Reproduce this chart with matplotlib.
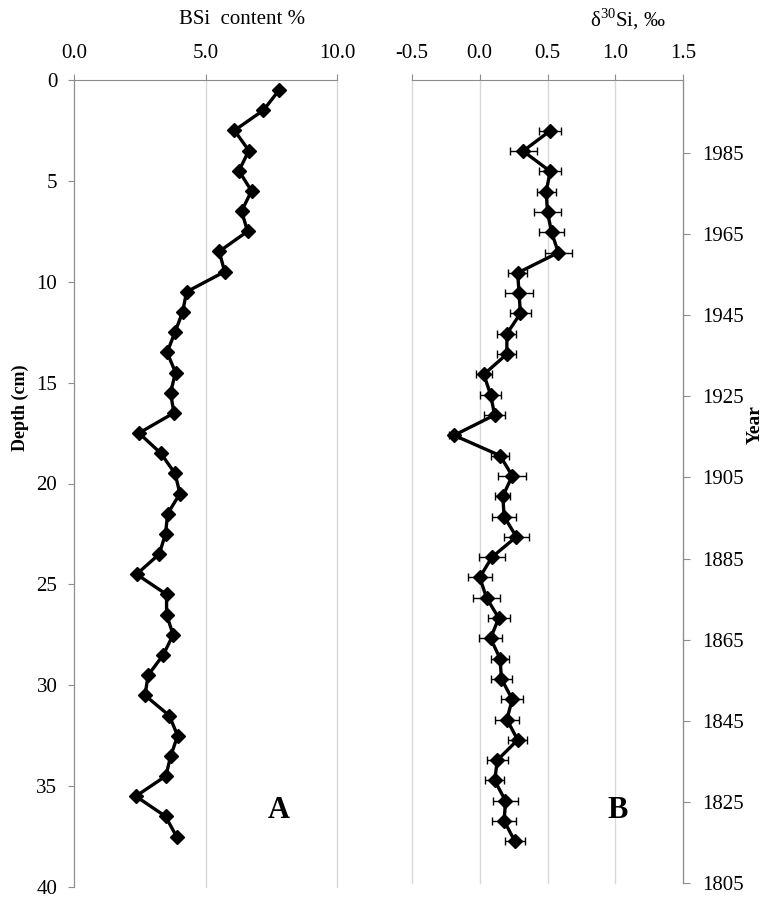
import matplotlib
matplotlib.use('Agg')
import matplotlib.pyplot as plt
import numpy as np

plt.rcParams['font.family'] = ['Liberation Serif', 'DejaVu Serif']
plt.rcParams['mathtext.fontset'] = 'custom'
plt.rcParams['mathtext.rm'] = 'Liberation Serif'

# panel A: BSi content vs depth
depth_a = [0.5, 1.5, 2.5, 3.5, 4.5, 5.5, 6.5, 7.5, 8.5, 9.5,
           10.5, 11.5, 12.5, 13.5, 14.5, 15.5, 16.5, 17.5, 18.5, 19.5,
           20.5, 21.5, 22.5, 23.5, 24.5, 25.5, 26.5, 27.5, 28.5, 29.5,
           30.5, 31.5, 32.5, 33.5, 34.5, 35.5, 36.5, 37.5]
bsi = [7.8, 7.2, 6.1, 6.65, 6.27, 6.75, 6.37, 6.6, 5.52, 5.73,
       4.28, 4.13, 3.84, 3.54, 3.86, 3.67, 3.80, 2.47, 3.30, 3.84,
       4.03, 3.56, 3.48, 3.24, 2.38, 3.52, 3.52, 3.77, 3.39, 2.82,
       2.70, 3.62, 3.94, 3.68, 3.49, 2.35, 3.48, 3.90]

# panel B: d30Si vs depth, with error
depth_b = [2.5, 3.5, 4.5, 5.5, 6.5, 7.5, 8.5, 9.5, 10.5, 11.5,
           12.5, 13.5, 14.5, 15.5, 16.5, 17.5, 18.5, 19.5, 20.5, 21.5,
           22.5, 23.5, 24.5, 25.5, 26.5, 27.5, 28.5, 29.5, 30.5, 31.5,
           32.5, 33.5, 34.5, 35.5, 36.5, 37.5]
d30si = [0.52, 0.32, 0.52, 0.49, 0.50, 0.53, 0.58, 0.28, 0.29, 0.30,
         0.20, 0.20, 0.03, 0.08, 0.11, -0.19, 0.15, 0.24, 0.17, 0.18,
         0.27, 0.09, 0.00, 0.05, 0.14, 0.08, 0.15, 0.16, 0.24, 0.20,
         0.28, 0.13, 0.11, 0.19, 0.18, 0.26]
d30si_err = [0.08, 0.10, 0.08, 0.07, 0.10, 0.09, 0.10, 0.07, 0.10, 0.08,
             0.07, 0.07, 0.06, 0.075, 0.08, 0.04, 0.065, 0.105, 0.055, 0.09,
             0.09, 0.095, 0.09, 0.10, 0.08, 0.085, 0.065, 0.075, 0.08, 0.09,
             0.07, 0.08, 0.07, 0.09, 0.09, 0.075]

year_ticks = [1805, 1825, 1845, 1865, 1885, 1905, 1925, 1945, 1965, 1985]

W, H = 764, 899
fig = plt.figure(figsize=(W / 100, H / 100), dpi=100)

def box(l, r, t, b):
    return [l / W, 1 - b / H, (r - l) / W, (b - t) / H]

spine_c = '#8c8c8c'
grid_c = '#d9d9d9'
fs = 15

# ---- panel A ----
axA = fig.add_axes(box(74, 337, 80, 887))
axA.plot(bsi, depth_a, '-D', color='black', lw=2.4, ms=7.5)
axA.set_xlim(0, 10)
axA.set_ylim(40, 0)
axA.set_xticks([0, 5, 10])
axA.set_xticklabels(['0.0', '5.0', '10.0'])
axA.set_yticks(range(0, 41, 5))
axA.xaxis.tick_top()
axA.xaxis.grid(True, color=grid_c, lw=1)
for gl in axA.get_xgridlines():
    gl.set_clip_on(False)
axA.set_axisbelow(True)
for s in ['right', 'bottom']:
    axA.spines[s].set_visible(False)
for s in ['top', 'left']:
    axA.spines[s].set_color(spine_c)
axA.tick_params(axis='x', colors=spine_c, labelcolor='black', length=4,
                pad=8, labelsize=fs)
axA.tick_params(axis='y', colors=spine_c, labelcolor='black', length=4,
                pad=8, labelsize=fs)

# ---- panel B ----
axB = fig.add_axes(box(412, 683, 80, 883))
axB.errorbar(d30si, depth_b, xerr=d30si_err, fmt='-D', color='black',
             ecolor='black', elinewidth=1, capsize=3, capthick=1,
             lw=2.4, ms=7.5)
axB.set_xlim(-0.5, 1.5)
axB.set_ylim(39.55, 0)
axB.set_xticks([-0.5, 0, 0.5, 1.0, 1.5])
axB.set_xticklabels(['-0.5', '0.0', '0.5', '1.0', '1.5'])
axB.xaxis.tick_top()
axB.xaxis.grid(True, color=grid_c, lw=1)
for gl in axB.get_xgridlines():
    gl.set_clip_on(False)
axB.set_axisbelow(True)
axB.set_yticks([])
for s in ['left', 'bottom']:
    axB.spines[s].set_visible(False)
for s in ['top', 'right']:
    axB.spines[s].set_color(spine_c)
axB.tick_params(axis='x', colors=spine_c, labelcolor='black', length=4,
                pad=8, labelsize=fs)

axY = axB.twinx()
axY.set_ylim(1805, 2003)
axY.set_yticks(year_ticks)
for s in ['left', 'bottom', 'top']:
    axY.spines[s].set_visible(False)
axY.spines['right'].set_color(spine_c)
axY.tick_params(axis='y', colors=spine_c, labelcolor='black', length=5,
                pad=9, labelsize=fs)

# titles and labels
fig.text(242 / W, 1 - 19 / H, 'BSi  content %', ha='center', va='center',
         fontsize=fs)
fig.text(628 / W, 1 - 19 / H, r'δ$^{30}$Si, ‰', ha='center', va='center',
         fontsize=fs)
fig.text(20 / W, 1 - 408 / H, 'Depth (cm)', rotation=90, ha='center',
         va='center', fontsize=13, fontweight='bold')
fig.text(755 / W, 1 - 425 / H, 'Year', rotation=90, ha='center',
         va='center', fontsize=14, fontweight='bold')
fig.text(279 / W, 1 - 810 / H, 'A', ha='center', va='center',
         fontsize=22, fontweight='bold')
fig.text(618 / W, 1 - 810 / H, 'B', ha='center', va='center',
         fontsize=22, fontweight='bold')

fig.savefig('out.png', dpi=100)
